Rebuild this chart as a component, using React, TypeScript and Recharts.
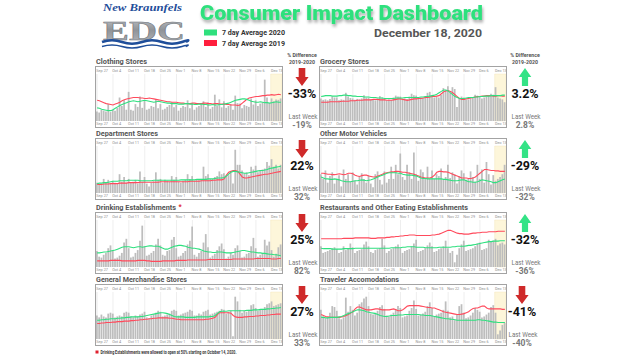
import React from 'react';
import { ComposedChart, Bar, Line, XAxis, YAxis, CartesianGrid, ReferenceArea } from 'recharts';

// ---------- categories / tick labels ----------
const weekLabels = ['Sep 27', 'Oct 4', 'Oct 11', 'Oct 18', 'Oct 25', 'Nov 1', 'Nov 8', 'Nov 15', 'Nov 22', 'Nov 29', 'Dec 6', 'Dec 13'];
const dayCount = 82; // Sep 27 .. Dec 17
const highlightStart = 77; // Dec 13

// ---------- Clothing Stores ----------
const clothingBars = [20,18,24,22,20,36,19, 24,22,28,50,32,44,24, 62,24,22,36,30,52,28, 44,24,26,32,30,46,27, 36,24,26,30,34,40,29, 34,22,28,32,30,44,27, 38,24,29,32,36,42,30, 40,26,30,56,32,46,29, 42,28,32,36,24,54,38, 37,27,34,32,30,48,35, 44,32,37,40,88,50,38, 48,42,46,45,48];
const clothing2020 = [28,27,25,24,23,22,22, 24,27,30,33,35,37,39, 41,42,43,42,41,42,43, 44,43,42,41,40,41,42, 41,40,39,38,38,37,37, 37,36,36,36,37,37,36, 36,35,35,36,36,35,35, 34,34,35,34,34,35,35, 36,37,38,40,42,44,45, 46,47,47,46,44,42,41, 40,40,41,40,39,39,38, 39,40,41,40,40];
const clothing2019 = [44,43,41,39,37,36,35, 34,36,38,40,43,45,47, 48,49,50,50,50,49,49, 48,48,49,48,47,46,45, 44,43,42,41,41,40,40, 40,39,38,38,37,37,37, 38,38,37,37,37,38,38, 37,37,36,37,37,36,36, 36,35,35,34,34,34,33, 34,38,42,46,49,50,51, 52,52,53,54,54,55,55, 56,55,56,57,56];

// ---------- Grocery Stores ----------
const groceryBars = [48,45,46,44,47,52,50, 50,44,46,45,60,52,49, 48,45,47,46,48,55,50, 50,46,45,44,47,53,50, 48,44,46,45,50,54,52, 52,46,48,47,52,58,55, 54,48,50,49,52,60,62, 55,50,52,50,56,70,66, 74,60,72,68,30,48,52, 50,45,46,48,50,56,54, 52,48,50,52,54,58,56, 72,50,48,46,40];
const grocery2020 = [52,53,54,54,54,53,53, 53,54,54,55,55,54,54, 53,53,52,52,52,51,51, 51,50,50,50,49,49,49, 48,48,48,48,48,49,49, 49,49,50,50,50,50,50, 50,50,51,51,52,52,53, 54,55,57,60,63,66,66, 64,60,56,52,50,48,48, 48,49,50,50,50,51,51, 52,52,53,53,53,54,54, 54,54,54,55,55];
const grocery2019 = [40,40,40,40,41,41,41, 41,41,42,42,42,42,43, 43,43,44,44,44,45,45, 45,45,46,46,46,45,45, 45,44,44,44,45,46,47, 47,46,45,44,45,46,47, 47,48,48,49,50,50,51, 52,52,53,54,58,62,64, 65,63,60,56,52,48,46, 46,47,48,49,50,51,52, 52,53,53,54,54,54,53, 53,54,54,53,53];

// ---------- Department Stores ----------
const deptBars = [22,18,20,30,22,28,20, 26,22,20,40,24,34,22, 30,22,24,28,20,46,24, 34,20,14,22,25,44,28, 30,22,28,26,24,36,28, 34,24,22,26,28,40,30, 36,26,28,30,30,56,36, 40,30,30,34,36,46,40, 42,36,38,44,20,92,60, 60,48,42,44,38,56,50, 58,44,48,50,52,66,58, 72,56,60,52,60];
const dept2020 = [20,21,21,22,22,23,24, 25,25,25,26,26,26,26, 27,27,27,27,27,26,26, 26,26,26,26,27,27,27, 27,27,27,27,27,27,27, 27,27,28,28,28,28,28, 28,28,29,29,29,29,29, 30,30,30,31,32,32,32, 33,36,40,44,46,46,45, 44,43,42,42,43,44,45, 46,47,48,48,49,50,52, 53,54,55,56,57];
const dept2019 = [18,18,18,19,19,19,20, 20,20,20,21,21,21,21, 22,22,22,22,22,23,23, 23,23,23,23,23,23,23, 24,24,24,24,24,24,24, 24,24,24,24,24,24,25, 25,25,25,25,26,26,26, 26,26,27,27,28,28,28, 30,38,44,46,48,48,46, 40,34,32,32,33,34,35, 36,37,38,39,40,40,41, 42,43,44,45,46];

// ---------- Other Motor Vehicles ----------
const motorBars = [40,30,48,22,36,44,20, 30,38,14,50,30,40,24, 44,26,18,36,42,30,22, 38,20,12,40,46,28,18, 46,22,30,56,30,60,40, 84,34,28,60,44,30,86, 40,26,50,44,32,56,30, 48,30,40,36,52,28,34, 60,32,44,40,20,36,48, 42,28,30,46,34,24,60, 30,50,22,66,40,18,38, 26,30,34,40,60];
const motor2020 = [34,32,30,30,29,29,30, 29,28,26,25,24,24,24, 25,26,26,27,28,27,26, 27,28,30,32,34,36,38, 40,42,43,43,43,43,42, 42,40,39,38,38,38,37, 36,34,32,31,31,30,30, 30,30,30,30,30,29,29, 28,27,26,26,26,27,28, 28,26,24,24,23,23,24, 26,28,27,26,25,24,22, 22,24,26,28,30];
const motor2019 = [42,42,41,40,40,39,39, 40,41,40,39,40,42,42, 41,38,36,35,37,38,38, 36,35,34,34,36,38,40, 42,43,44,45,45,46,46, 45,44,44,43,42,41,40, 38,36,34,33,32,32,32, 34,38,44,46,46,45,45, 44,42,40,38,36,34,32, 32,32,31,31,32,34,38, 42,46,50,50,49,48,48, 47,47,46,46,46];

// ---------- Drinking Establishments ----------
const drinkBars = [34,22,20,26,30,40,46, 36,18,20,24,30,52,60, 40,20,22,30,36,56,88, 44,24,26,30,34,48,60, 46,26,24,34,36,58,64, 40,22,24,30,34,48,56, 86,26,22,30,34,52,70, 42,20,24,28,36,44,50, 38,18,22,30,26,40,46, 34,20,22,28,30,44,62, 40,22,26,30,58,46,54, 36,22,28,42,48];
const drink2020 = [30,30,31,32,32,33,34, 35,36,38,40,42,43,43, 43,42,41,42,43,43,42, 43,44,45,45,44,44,44, 42,40,38,38,40,42,44, 45,46,46,45,44,42,41, 40,40,39,38,36,34,33, 32,32,31,31,32,32,32, 31,30,30,30,31,32,33, 34,35,35,34,33,32,32, 31,30,30,29,29,28,27, 27,26,26,25,24];
const drink2019 = [13,13,13,13,13,13,14, 14,14,14,14,13,13,13, 13,13,13,13,14,14,14, 14,13,13,12,12,12,12, 12,13,13,13,13,13,13, 14,14,14,14,14,15,15, 15,15,15,15,15,15,15, 16,16,16,16,16,16,16, 16,16,16,16,17,17,17, 17,17,17,17,17,17,17, 18,18,18,18,18,18,18, 17,17,17,18,18];

// ---------- Restaurants and Other Eating Establishments ----------
const restBars = [44,30,32,34,36,40,42, 38,30,32,44,36,40,50, 42,30,34,36,38,48,54, 44,32,30,36,38,40,60, 46,30,34,38,40,44,48, 40,30,34,36,38,44,50, 58,32,34,36,40,46,52, 44,32,34,38,40,44,56, 40,30,34,10,26,40,48, 56,34,36,38,40,44,50, 52,36,38,40,58,54,56, 60,46,50,52,48];
const rest2020 = [40,39,39,39,39,38,38, 38,38,38,39,39,39,39, 39,40,40,40,40,40,40, 40,40,40,40,40,40,40, 40,40,40,41,41,41,41, 41,42,42,43,43,43,43, 42,42,42,42,41,41,41, 41,41,41,42,42,42,42, 42,42,43,43,44,44,44, 44,45,46,46,47,48,49, 50,51,52,53,54,54,55, 55,55,56,56,56];
const rest2019 = [60,60,60,60,60,60,60, 60,60,60,61,61,61,61, 61,62,62,62,62,62,62, 62,61,61,61,62,62,62, 62,63,63,64,64,65,65, 66,66,67,67,68,68,68, 67,67,67,67,67,67,67, 68,68,69,70,72,74,76, 78,78,76,74,72,71,71, 70,70,70,71,72,72,73, 73,74,74,74,75,75,75, 75,76,76,76,76];

// ---------- General Merchandise Stores ----------
const gmBars = [50,46,52,48,46,54,56, 54,46,48,50,48,56,58, 56,48,46,50,48,52,54, 58,46,44,50,52,56,60, 58,48,50,52,54,60,62, 60,50,52,54,56,58,62, 60,50,50,54,52,58,60, 62,52,54,56,58,60,64, 62,54,58,60,6,90,80, 62,56,60,58,62,72,74, 66,60,62,64,68,74,76, 80,70,72,74,76];
const gm2020 = [40,40,41,41,42,42,43, 43,43,44,44,45,45,46, 46,47,47,47,47,48,48, 49,50,51,52,53,54,55, 56,56,55,54,52,50,48, 47,47,47,47,46,46,46, 46,46,47,47,47,47,47, 47,48,48,50,54,58,59, 59,59,60,60,60,60,60, 60,60,60,61,61,61,62, 62,62,63,63,63,64,64, 65,65,66,66,67];
const gm2019 = [33,33,34,34,35,35,35, 36,36,37,37,37,38,38, 38,39,39,40,40,41,41, 42,42,43,43,44,44,45, 45,45,45,45,44,44,43, 42,42,41,41,41,41,41, 41,41,41,41,41,41,42, 42,43,44,46,52,56,56, 56,56,56,55,50,47,46, 46,46,47,47,48,48,48, 49,49,50,50,50,51,51, 52,52,53,53,53];

// ---------- Traveler Accomodations ----------
const travelBars = [62,48,44,46,56,70,68, 60,44,42,46,88,58,70, 62,50,56,74,78,86,90, 70,54,52,56,60,68,72, 64,50,48,52,56,64,70, 66,46,48,50,60,66,82, 64,50,52,54,58,70,78, 66,48,52,54,56,62,80, 60,46,48,40,52,70,74, 56,44,46,50,56,66,62, 58,46,48,52,56,68,72, 56,10,18,30,34];
const travel2020 = [46,46,45,45,46,46,46, 46,47,48,50,52,54,56, 58,60,62,62,61,60,58, 57,56,55,54,52,50,49, 48,48,49,50,50,50,51, 51,51,52,52,52,52,52, 52,52,51,51,50,50,50, 49,48,47,46,45,44,43, 43,42,42,41,40,40,40, 40,40,40,40,40,40,41, 41,40,40,39,38,37,36, 36,35,35,35,35];
const travel2019 = [52,50,48,47,46,46,46, 46,46,47,48,50,52,55, 58,64,68,68,66,64,62, 62,62,63,64,64,63,62, 62,62,62,63,64,62,60, 60,62,66,70,71,71,71, 71,71,70,69,68,67,67, 66,66,64,62,60,58,57, 56,55,54,53,52,52,53, 54,56,58,62,65,66,66, 68,70,70,66,64,64,64, 64,64,64,63,63];

// ---------- panel texts ----------
const panelTitles = ['Clothing Stores', 'Grocery Stores', 'Department Stores', 'Other Motor Vehicles', 'Drinking Establishments', 'Restaurants and Other Eating Establishments', 'General Merchandise Stores', 'Traveler Accomodations'];
const pctDiff = ['-33%', '3.2%', '22%', '-29%', '25%', '-32%', '27%', '-41%'];
const lastWeek = ['-19%', '2.8%', '32%', '-32%', '82%', '-36%', '33%', '-40%'];
const arrowDir = ['down', 'up', 'down', 'up', 'down', 'up', 'down', 'down'];

const seriesBars = [clothingBars, groceryBars, deptBars, motorBars, drinkBars, restBars, gmBars, travelBars];
const series2020 = [clothing2020, grocery2020, dept2020, motor2020, drink2020, rest2020, gm2020, travel2020];
const series2019 = [clothing2019, grocery2019, dept2019, motor2019, drink2019, rest2019, gm2019, travel2019];

// ---------- layout (positions, not data) ----------
const colX = [95, 319];
const rowY = [66, 138, 212, 284];
const pctX = [302, 525];
const titleWidths = [51, 49, 62, 67, 80, 148, 91, 79];
const BOX_W = 188;
const BOX_H = 62;

const GREEN = '#2fe07f';
const RED = '#ff4a5c';
const ARROW_RED = '#cf2a2a';
const ARROW_GREEN = '#34e386';
const FONT = 'Roboto, "Liberation Sans", sans-serif';

const makeTick = (yPos: number) => (props: any) => {
  const { x, payload } = props;
  const idx = Math.round(Number(payload.value) / 7);
  const label = weekLabels[idx] ?? '';
  return (
    <text x={x - 0.8} y={yPos} fontSize={3.8} fill="#8e8e8e" fontFamily={FONT}>
      {label}
    </text>
  );
};

function Panel({ k }: { k: number }) {
  const col = k % 2;
  const row = Math.floor(k / 2);
  const bars = seriesBars[k];
  const a = series2020[k];
  const b = series2019[k];
  const data = Array.from({ length: dayCount }, (_, i) => ({ d: i, bar: bars[i], g: a[i], r: b[i] }));
  return (
    <div
      style={{
        position: 'absolute',
        left: colX[col],
        top: rowY[row],
        width: BOX_W,
        height: BOX_H,
        border: '1px solid #a3a3a3',
        boxSizing: 'border-box',
        background: '#fff',
      }}
    >
      <ComposedChart width={BOX_W - 2} height={BOX_H - 2} data={data} margin={{ top: 0, right: 0, bottom: 0, left: 0 }}>
        <ReferenceArea xAxisId="b" yAxisId="v" x1={highlightStart} x2={dayCount - 1} y1={0} y2={100} fill="#fdf6da" fillOpacity={1} stroke="#f3e7b8" strokeWidth={0.4} ifOverflow="visible" />
        <CartesianGrid xAxisId="b" yAxisId="v" vertical horizontal={false} stroke="#e3e3e3" strokeWidth={0.6} />
        <XAxis xAxisId="t" orientation="top" dataKey="d" height={7} interval={6} tick={makeTick(4.6)} tickLine={false} axisLine={false} />
        <XAxis xAxisId="b" dataKey="d" height={6} interval={6} tick={makeTick(BOX_H - 2 - 1.6)} tickLine={false} axisLine={false} />
        <YAxis yAxisId="v" hide domain={[0, 100]} allowDataOverflow />
        <Bar xAxisId="b" yAxisId="v" dataKey="bar" fill="#bdbdbd" barSize={1.75} isAnimationActive={false} />
        <Line xAxisId="t" yAxisId="v" dataKey="r" stroke={RED} strokeWidth={1.1} dot={false} activeDot={false} isAnimationActive={false} />
        <Line xAxisId="t" yAxisId="v" dataKey="g" stroke={GREEN} strokeWidth={1.1} dot={false} activeDot={false} isAnimationActive={false} />
      </ComposedChart>
    </div>
  );
}

function Arrow({ cx, y0, dir }: { cx: number; y0: number; dir: string }) {
  if (dir === 'down') {
    return (
      <path
        d={`M${cx - 3.3} ${y0} H${cx + 3.3} V${y0 + 9} H${cx + 6.6} L${cx} ${y0 + 18} L${cx - 6.6} ${y0 + 9} H${cx - 3.3} Z`}
        fill={ARROW_RED}
      />
    );
  }
  return (
    <path
      d={`M${cx} ${y0} L${cx + 6.3} ${y0 + 9} H${cx + 3.1} V${y0 + 18} H${cx - 3.1} V${y0 + 9} H${cx - 6.3} Z`}
      fill={ARROW_GREEN}
    />
  );
}

function Decorations() {
  return (
    <svg width={640} height={360} style={{ position: 'absolute', left: 0, top: 0 }}>
      <defs>
        <filter id="shadow" x="-10%" y="-30%" width="120%" height="180%">
          <feDropShadow dx="1" dy="2.5" stdDeviation="1.6" floodColor="#000" floodOpacity="0.35" />
        </filter>
        <linearGradient id="edcGrad" x1="0" y1="0" x2="0" y2="1">
          <stop offset="0" stopColor="#c9ccd0" />
          <stop offset="0.5" stopColor="#8f9398" />
          <stop offset="1" stopColor="#b8bbbf" />
        </linearGradient>
      </defs>

      {/* Logo */}
      <text x={103} y={11.2} fontFamily="'Liberation Serif', serif" fontStyle="italic" fontWeight="bold" fontSize={11} fill="#1f4e9a" textLength={79} lengthAdjust="spacingAndGlyphs">New Braunfels</text>
      <text x={103} y={39.5} fontFamily="'Liberation Serif', serif" fontWeight="bold" fontSize={28} fill="url(#edcGrad)" stroke="#6f7378" strokeWidth={0.5} textLength={82} lengthAdjust="spacingAndGlyphs">EDC</text>
      <path d="M102 42 q10 -3.5 20 0 t20 0 t20 0 t20 0 t4 0" stroke="#1f4e9a" strokeWidth={2.6} fill="none" />
      <path d="M102 46.5 q10 -3 20 0 t20 0 t20 0 t20 0 t4 0" stroke="#1f4e9a" strokeWidth={1.4} fill="none" />

      {/* Title */}
      <text x={200} y={20} fontFamily={FONT} fontWeight={900} fontSize={21} fill="#2fe07d" filter="url(#shadow)" textLength={283} lengthAdjust="spacingAndGlyphs">Consumer Impact Dashboard</text>

      {/* Legend */}
      <rect x={204} y={29.5} width={13} height={6} fill="#2fe07d" />
      <text x={222} y={35.3} fontFamily={FONT} fontWeight="bold" fontSize={6.6} fill="#333" textLength={63} lengthAdjust="spacingAndGlyphs">7 day Average 2020</text>
      <rect x={204} y={40} width={13} height={6} fill="#ff1f3d" />
      <text x={222} y={45.8} fontFamily={FONT} fontWeight="bold" fontSize={6.6} fill="#333" textLength={63} lengthAdjust="spacingAndGlyphs">7 day Average 2019</text>

      {/* Date */}
      <text x={374} y={36.5} fontFamily={FONT} fontWeight="bold" fontSize={11} fill="#555" textLength={108} lengthAdjust="spacingAndGlyphs">December 18, 2020</text>

      {/* % Difference headers */}
      {pctX.map((cx, i) => (
        <g key={'h' + i}>
          <text x={cx} y={57} textAnchor="middle" fontFamily={FONT} fontWeight="bold" fontSize={5.2} fill="#555">% Difference</text>
          <text x={cx} y={64} textAnchor="middle" fontFamily={FONT} fontWeight="bold" fontSize={5.2} fill="#555">2019-2020</text>
        </g>
      ))}

      {/* Panel titles and percentage columns */}
      {panelTitles.map((t, k) => {
        const col = k % 2;
        const row = Math.floor(k / 2);
        const T = rowY[row];
        const cx = pctX[col] + (k === 7 ? -3 : 0);
        return (
          <g key={'p' + k}>
            <text x={colX[col] + 1} y={T - 2} fontFamily={FONT} fontWeight="bold" fontSize={7.6} fill="#555" textLength={titleWidths[k]} lengthAdjust="spacingAndGlyphs">{t}</text>
            {k === 4 && (
              <text x={colX[col] + 2 + titleWidths[k] + 1.5} y={T - 3.5} fontFamily={FONT} fontWeight="bold" fontSize={7} fill="#e0202e">*</text>
            )}
            <Arrow cx={cx} y0={T + 2} dir={arrowDir[k]} />
            <text x={cx} y={T + 31.5} textAnchor="middle" fontFamily={FONT} fontWeight="bold" fontSize={12.5} fill="#111">{pctDiff[k]}</text>
            <text x={cx + 1} y={T + 52.5} textAnchor="middle" fontFamily={FONT} fontSize={7.4} fill="#777" textLength={29} lengthAdjust="spacingAndGlyphs">Last Week</text>
            <text x={cx} y={T + 62} textAnchor="middle" fontFamily={FONT} fontWeight="bold" fontSize={8.5} fill="#777">{lastWeek[k]}</text>
          </g>
        );
      })}

      {/* Footer note */}
      <rect x={95.5} y={350.5} width={3} height={3} fill="#e0202e" />
      <text x={100.5} y={354} fontFamily={FONT} fontWeight="bold" fontSize={4.6} fill="#333" textLength={136} lengthAdjust="spacingAndGlyphs">Drinking Establishments were allowed to open at 50% starting on October 14, 2020.</text>
    </svg>
  );
}

export default function App() {
  return (
    <div style={{ position: 'absolute', left: 0, top: 0, width: 640, height: 360, background: '#fff', overflow: 'hidden' }}>
      <Decorations />
      {panelTitles.map((_, k) => (
        <Panel key={k} k={k} />
      ))}
    </div>
  );
}
